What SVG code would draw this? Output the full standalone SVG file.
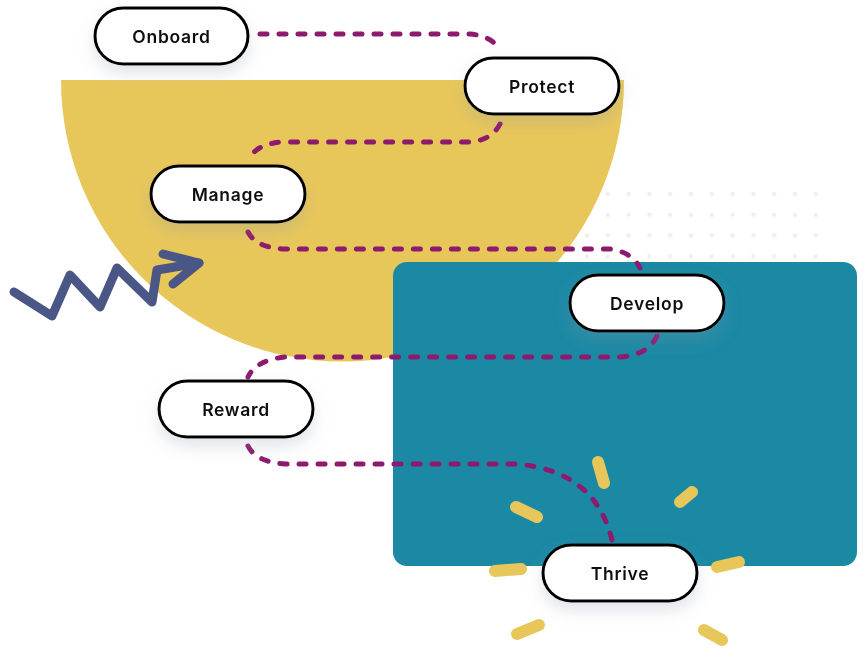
<svg xmlns="http://www.w3.org/2000/svg" width="865" height="662" viewBox="0 0 865 662">
<defs>
<style>
.node rect{fill:#fff;stroke:#000;stroke-width:3}
.node text{font-family:"Inter","Liberation Sans",sans-serif;font-size:17.5px;font-weight:600;letter-spacing:0.7px;fill:#111;text-anchor:middle;dominant-baseline:central}
.conn path{fill:none;stroke:#8e1a6e;stroke-width:5;stroke-linecap:round;stroke-dasharray:7 12}
.ray{stroke:#e8c75a;stroke-width:12;stroke-linecap:round}
.dot{fill:#f3eee9}
</style>
<filter id="sh" x="-30%" y="-40%" width="160%" height="200%">
<feDropShadow dx="0" dy="8" stdDeviation="8" flood-color="#8a93a8" flood-opacity="0.25"/>
</filter>
<pattern id="dots" x="587" y="194" width="20.8" height="20.8" patternUnits="userSpaceOnUse">
<circle cx="0" cy="0" r="2.2" class="dot"/><circle cx="20.8" cy="0" r="2.2" class="dot"/><circle cx="0" cy="20.8" r="2.2" class="dot"/><circle cx="20.8" cy="20.8" r="2.2" class="dot"/>
</pattern>
</defs>
<rect width="865" height="662" fill="#fff"/>
<rect x="584" y="191" width="240" height="70" fill="url(#dots)"/>
<path d="M61,80 H624 A281.5,281.5 0 0 1 61,80 Z" fill="#e8c75a"/>
<rect x="393" y="262" width="464" height="304" rx="14" fill="#1b89a4"/>
<g id="zigzag" fill="none" stroke="#4a5786" stroke-width="9" stroke-linecap="round" stroke-linejoin="round">
<polyline points="14,292 52,316 70,275 100,307 117,268 152,302 157,270 199,263"/>
<polyline points="163,254 199,263 173,284"/>
</g>
<g id="rays">
<line class="ray" x1="598" y1="462" x2="604" y2="483"/>
<line class="ray" x1="516" y1="507" x2="537" y2="517"/>
<line class="ray" x1="680" y1="502" x2="692" y2="492"/>
<line class="ray" x1="495" y1="571" x2="521" y2="569"/>
<line class="ray" x1="717" y1="567" x2="739" y2="562"/>
<line class="ray" x1="517" y1="634" x2="539" y2="625"/>
<line class="ray" x1="704" y1="630" x2="722" y2="640"/>
</g>
<g id="connectors" class="conn">
<path d="M260,34 H470 Q492,36 500,50"/>
<path d="M500,124 Q492,140 470,142 H282 Q256,144 248,160"/>
<path d="M248,232 Q256,247 282,249 H610 Q632,252 640,268"/>
<path d="M657,336 Q648,355 620,357 H285 Q256,360 248,377"/>
<path d="M248,446 Q256,462 285,464 H515 Q595,470 612,540"/>
</g>
<g id="onboard" class="node" filter="url(#sh)"><rect x="95" y="8" width="153" height="56" rx="28"/><text x="171.5" y="36">Onboard</text></g>
<g id="protect" class="node" filter="url(#sh)"><rect x="465" y="58" width="154" height="56" rx="28"/><text x="542" y="86">Protect</text></g>
<g id="manage" class="node" filter="url(#sh)"><rect x="151" y="166" width="154" height="56" rx="28"/><text x="228" y="194">Manage</text></g>
<g id="develop" class="node" filter="url(#sh)"><rect x="570" y="275" width="154" height="56" rx="28"/><text x="647" y="303">Develop</text></g>
<g id="reward" class="node" filter="url(#sh)"><rect x="159" y="381" width="154" height="56" rx="28"/><text x="236" y="409">Reward</text></g>
<g id="thrive" class="node" filter="url(#sh)"><rect x="543" y="545" width="154" height="56" rx="28"/><text x="620" y="573">Thrive</text></g>
</svg>
